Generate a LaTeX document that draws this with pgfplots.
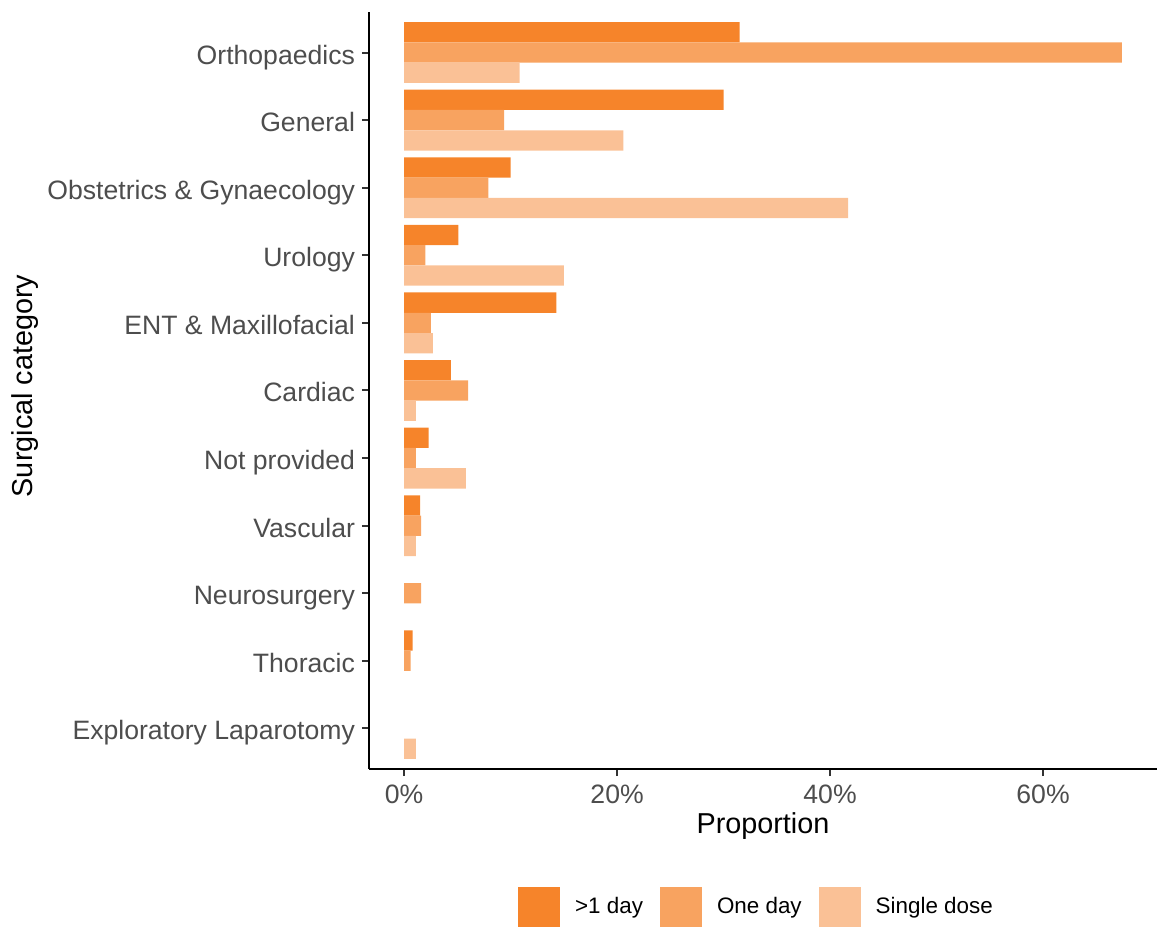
\documentclass[border=0pt]{standalone}
\usepackage{pgfplots}
\pgfplotsset{compat=1.18}
\usepackage{fontspec}
\setmainfont{Liberation Sans}
\setsansfont{Liberation Sans}
\definecolor{cA}{HTML}{F6842A}
\definecolor{cB}{HTML}{F8A360}
\definecolor{cC}{HTML}{FAC196}
\definecolor{txtgray}{HTML}{4D4D4D}
\definecolor{tickgray}{HTML}{333333}
\begin{document}
\begin{tikzpicture}
\begin{axis}[
  name=ax,
  scale only axis,
  width=394pt, height=378.5pt,
  xmin=-3.3, xmax=70.7,
  ymin=0.4, ymax=11.6,
  axis lines*=left,
  axis line style={black, line width=1.1pt},
  xtick={0,20,40,60},
  xticklabel={\pgfmathprintnumber{\tick}\%},
  ytick={1,...,11},
  yticklabels={Exploratory Laparotomy,Thoracic,Neurosurgery,Vascular,Not provided,Cardiac,ENT \& Maxillofacial,Urology,Obstetrics \& Gynaecology,General,Orthopaedics},
  tick align=outside,
  major tick length=3.5pt,
  tick style={tickgray, line width=1pt},
  /pgf/number format/assume math mode=true,
  ticklabel style={font=\fontsize{13.3pt}{15pt}\selectfont, text=txtgray},
  yticklabel style={text height=9.5pt, text depth=0pt, yshift=-1pt},
  xticklabel style={yshift=-0.7pt},
  xlabel={Proportion},
  ylabel={Surgical category},
  xlabel style={font=\fontsize{14.4pt}{16pt}\selectfont, at={(axis description cs:0.5,-0.0753)}, anchor=center},
  ylabel style={font=\fontsize{14.4pt}{16pt}\selectfont, at={(axis description cs:-0.436,0.506)}, anchor=center},
  xbar, bar width=0.3,
  legend style={at={(axis description cs:0.493,-0.1823)}, anchor=center, draw=none, inner sep=0pt,
    legend columns=-1, font=\fontsize{11.2pt}{13pt}\selectfont,
    /tikz/every odd column/.append style={column sep=5.5pt},
    /tikz/every even column/.append style={column sep=6.5pt}},
  legend image code/.code={\fill[#1] (0pt,-10pt) rectangle (21pt,10pt);},
]
\addplot[fill=cA, draw=none, bar shift=0.3] coordinates {
 (31.5,11) (30.0,10) (10.0,9) (5.1,8) (14.3,7) (4.4,6) (2.3,5) (1.5,4) (0.8,2)};
\addplot[fill=cB, draw=none, bar shift=0] coordinates {
 (67.4,11) (9.4,10) (7.9,9) (2.0,8) (2.5,7) (6.0,6) (1.1,5) (1.6,4) (1.6,3) (0.6,2)};
\addplot[fill=cC, draw=none, bar shift=-0.3] coordinates {
 (10.85,11) (20.6,10) (41.7,9) (15.0,8) (2.7,7) (1.1,6) (5.8,5) (1.1,4) (1.1,1)};
\legend{>1 day, One day, Single dose}
\end{axis}
\pgfresetboundingbox
\path[use as bounding box] (-184.5pt,-79pt) rectangle (394pt,384.5pt);
\end{tikzpicture}
\end{document}
